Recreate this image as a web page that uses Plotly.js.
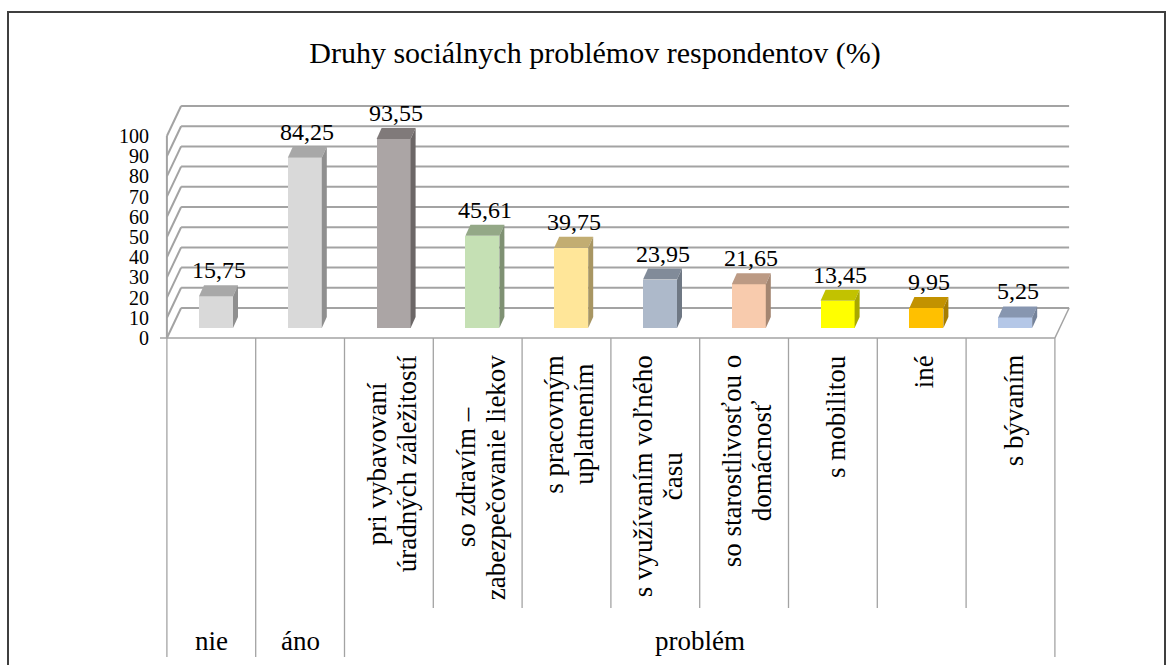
<!DOCTYPE html>
<html><head><meta charset="utf-8">
<script src="https://cdn.plot.ly/plotly-3.0.1.min.js"></script>
<style>html,body{margin:0;padding:0;background:#fff}</style>
</head><body><div id="chart" style="width:1170px;height:665px"></div>
<script>
// ---- data ----
const chartTitle = "Druhy sociálnych problémov respondentov (%)";
const outerLabels = ["nie","áno","problém","problém","problém","problém","problém","problém","problém","problém"];
const innerLabels = [
  [], [],
  ["pri vybavovaní","úradných záležitostí"],
  ["so zdravím –","zabezpečovanie liekov"],
  ["s pracovným","uplatnením"],
  ["s využívaním voľného","času"],
  ["so starostlivosťou o","domácnosť"],
  ["s mobilitou"],
  ["iné"],
  ["s bývaním"]
];
const values = [15.75, 84.25, 93.55, 45.61, 39.75, 23.95, 21.65, 13.45, 9.95, 5.25];
const yTicks = [0,10,20,30,40,50,60,70,80,90,100];
const frontColors = ["#d9d9d9","#d9d9d9","#aba5a5","#c5e0b4","#ffe699","#adb9ca","#f8cbad","#ffff00","#ffc000","#b4c7e7"];
const topColors   = ["#a8a8a8","#a8a8a8","#807a7a","#94a887","#c2ad72","#818b99","#bc9a84","#c2c200","#c29200","#8796b0"];
const sideColors  = ["#8f8f8f","#8f8f8f","#6c6767","#7f9173","#a89663","#6f7884","#a48671","#a8a800","#a67d00","#74829a"];

// ---- geometry (pixels -> axis units) ----
const PLOT = {l:150, r:1090, t:80, b:665};
const X0 = 216, SX = 88.8, Y0 = 328, SY = 2.02;
const xRange = [(PLOT.l - X0)/SX, (PLOT.r - X0)/SX];
const yRange = [(Y0 - PLOT.b)/SY, (Y0 - PLOT.t)/SY];
const FRONT = {dx: -4.7/SX, dy: -10/SY};
const BACK  = {dx: 9.5/SX, dy: 20/SY};
const DEPTH = {dx: 5/SX, dy: 11/SY};
const BARW = 34/SX;
const pyToY = py => (Y0 - py)/SY;
const pxToPaperX = px => (px - PLOT.l)/(PLOT.r - PLOT.l);
const pyToPaperY = py => (PLOT.b - py)/(PLOT.b - PLOT.t);
const n = values.length;
const FONT = '"Liberation Serif", "Times New Roman", Times, serif';
const gridCol = "#a3a3a3";

const shapes = [];
function seg(x0,y0,x1,y1,col,w){shapes.push({type:'line',xref:'x',yref:'y',x0,y0,x1,y1,layer:'below',line:{color:col,width:w}});}
const L = -0.5, R = n - 0.5;
yTicks.forEach(t => {
  seg(L+BACK.dx, t+BACK.dy, R+BACK.dx, t+BACK.dy, gridCol, 2);
  seg(L+FRONT.dx, t+FRONT.dy, L+BACK.dx, t+BACK.dy, gridCol, 2);
});
const tMax = yTicks[yTicks.length-1];
seg(L+FRONT.dx, FRONT.dy, L+FRONT.dx, tMax+FRONT.dy, gridCol, 2);
seg((160 - X0)/SX, FRONT.dy, R+FRONT.dx, FRONT.dy, gridCol, 1.5);
seg(R+FRONT.dx, FRONT.dy, R+BACK.dx, BACK.dy, gridCol, 1.5);
// category separators
for (let k = 0; k <= n; k++) {
  const outerBoundary = (k === 0 || k === n || outerLabels[k] !== outerLabels[k-1]);
  const yEnd = outerBoundary ? pyToY(657) : pyToY(608);
  seg(L + k + FRONT.dx, FRONT.dy, L + k + FRONT.dx, yEnd, gridCol, 1.3);
}
// outer frame
shapes.push({type:'rect',xref:'paper',yref:'paper',x0:pxToPaperX(8),x1:pxToPaperX(1165),y0:pyToPaperY(700),y1:pyToPaperY(12),line:{color:'#3f3f3f',width:2},layer:'above'});

// ---- traces ----
const traces = [];
traces.push({type:'bar', x: values.map((v,i)=>i), y: values, width: BARW,
  marker:{color: frontColors, line:{width:0}}, hoverinfo:'skip', showlegend:false});
values.forEach((v,i) => {
  const a = i - BARW/2, b = i + BARW/2;
  traces.push({type:'scatter', mode:'lines', fill:'toself', fillcolor: topColors[i], line:{width:0, color: topColors[i]},
    x:[a, b, b+DEPTH.dx, a+DEPTH.dx, a], y:[v, v, v+DEPTH.dy, v+DEPTH.dy, v], hoverinfo:'skip', showlegend:false});
  traces.push({type:'scatter', mode:'lines', fill:'toself', fillcolor: sideColors[i], line:{width:0, color: sideColors[i]},
    x:[b, b+DEPTH.dx, b+DEPTH.dx, b, b], y:[0, DEPTH.dy, v+DEPTH.dy, v, 0], hoverinfo:'skip', showlegend:false});
});

// ---- annotations ----
const annotations = [];
values.forEach((v,i) => {
  annotations.push({x: i + DEPTH.dx/2, y: v + DEPTH.dy, xref:'x', yref:'y', text: v.toFixed(2).replace('.', ','),
    showarrow:false, yanchor:'bottom', xanchor:'center', font:{family:FONT, size:24, color:'#000'}});
});
const ctx = document.createElement('canvas').getContext('2d');
ctx.font = '27px "Liberation Serif", "Times New Roman", serif';
innerLabels.forEach((lines,i) => {
  if (!lines.length) return;
  const maxLen = Math.max(...lines.map(s => ctx.measureText(s).width));
  const yc = pyToY(355 + maxLen/2);
  lines.forEach((s,j) => {
    annotations.push({x: i + FRONT.dx, y: yc, xref:'x', yref:'y', text: s, textangle:-90, showarrow:false,
      xanchor:'center', yanchor:'middle', xshift: 3 + (j - (lines.length-1)/2)*30,
      font:{family:FONT, size:27, color:'#000'}});
  });
});
// outer group labels
let start = 0;
for (let k = 1; k <= n; k++) {
  if (k === n || outerLabels[k] !== outerLabels[start]) {
    annotations.push({x: (start + k - 1)/2 + FRONT.dx, y: pyToY(641), xref:'x', yref:'y', text: outerLabels[start],
      showarrow:false, xanchor:'center', yanchor:'middle', font:{family:FONT, size:27, color:'#000'}});
    start = k;
  }
}

const layout = {
  width:1170, height:665, autosize:false,
  margin:{l:PLOT.l, r:1170-PLOT.r, t:PLOT.t, b:665-PLOT.b, pad:0},
  paper_bgcolor:'#ffffff', plot_bgcolor:'rgba(0,0,0,0)',
  title:{text: chartTitle, font:{family:FONT, size:30, color:'#000'}, xref:'paper', x: pxToPaperX(595), xanchor:'center',
    yref:'container', y: 1 - 52/665, yanchor:'middle'},
  xaxis:{range:xRange, showgrid:false, zeroline:false, showline:false, showticklabels:false, ticks:'', fixedrange:true},
  yaxis:{range:yRange, showgrid:false, zeroline:false, showline:false, ticks:'',
    tickmode:'array', tickvals: yTicks.map(t => t + FRONT.dy), ticktext: yTicks.map(String),
    tickfont:{family:FONT, size:20, color:'#000'}, fixedrange:true},
  shapes, annotations, showlegend:false, bargap:0
};
Plotly.newPlot('chart', traces, layout, {staticPlot:true, displayModeBar:false});
</script></body></html>
